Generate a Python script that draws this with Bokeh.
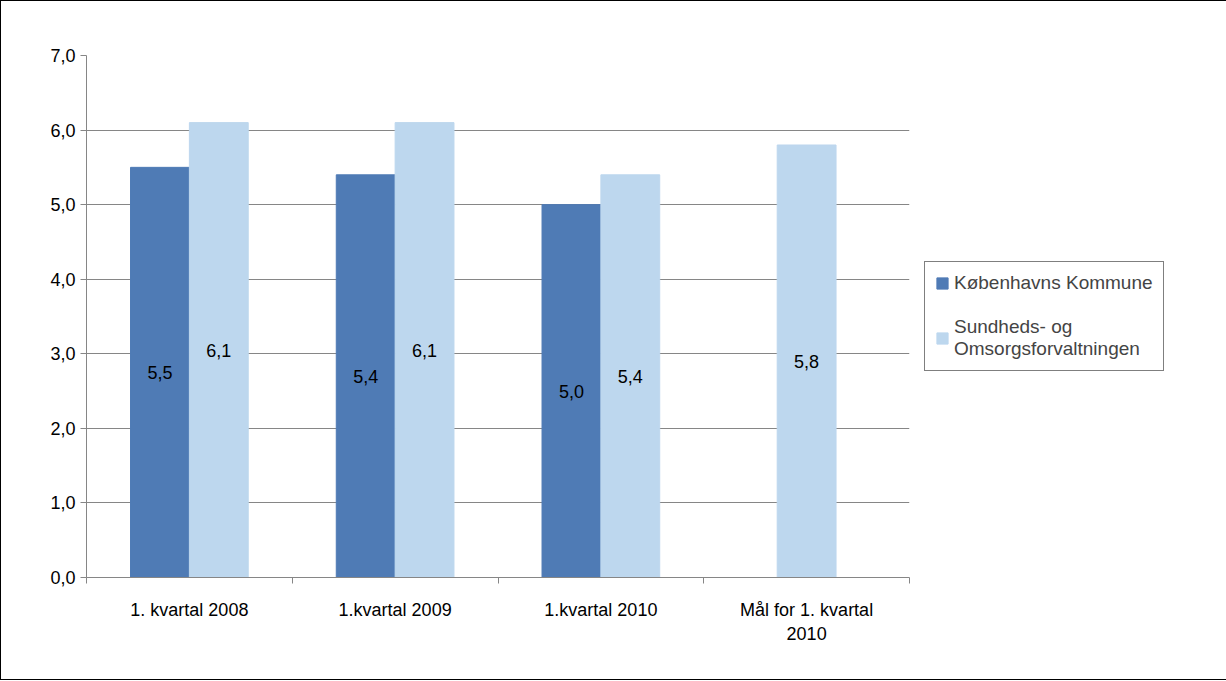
from bokeh.plotting import figure
from bokeh.models import (ColumnDataSource, FixedTicker, LinearAxis, Legend, LegendItem,
                          LabelSet, Range1d)
from bokeh.core.properties import value
from bokeh.embed import file_html
from bokeh.resources import INLINE

categories = ["1. kvartal 2008", "1.kvartal 2009", "1.kvartal 2010", "Mål for 1. kvartal\n2010"]
kk = [5.5, 5.4, 5.0, None]
sof = [6.1, 6.1, 5.4, 5.8]
series_names = ["Københavns Kommune", "Sundheds- og\nOmsorgsforvaltningen"]
colors = ["#4F7BB5", "#BDD7EE"]
FONT = "Liberation Sans"

p = figure(frame_width=823, frame_height=522, output_backend="svg", toolbar_location=None,
           x_range=Range1d(0, 4), y_range=Range1d(0, 7),
           min_border_left=85, min_border_top=54, min_border_right=300, min_border_bottom=102)
p.styles = {"border": "1px solid black"}
p.outline_line_color = None
p.background_fill_color = "white"

bw = 0.286
xs = [i + 0.5 for i in range(len(categories))]
kx = [x - bw / 2 for x, v in zip(xs, kk) if v is not None]
kv = [v for v in kk if v is not None]
sx = [x + bw / 2 if kk[i] is not None else x for i, x in enumerate(xs)]

s1 = ColumnDataSource(dict(x=kx, top=kv, y=[v / 2 for v in kv], t=[f"{v:.1f}".replace(".", ",") for v in kv]))
s2 = ColumnDataSource(dict(x=sx, top=sof, y=[v / 2 for v in sof], t=[f"{v:.1f}".replace(".", ",") for v in sof]))
r1 = p.vbar(x="x", top="top", width=bw, source=s1, color=colors[0])
r2 = p.vbar(x="x", top="top", width=bw, source=s2, color=colors[1])
for s in (s1, s2):
    p.add_layout(LabelSet(x="x", y="y", text="t", source=s, text_align="center", text_baseline="middle",
                          text_font=value(FONT), text_font_size=value("18px"), text_color="black"))

p.xgrid.visible = False
p.ygrid.grid_line_color = "#868686"
p.ygrid.ticker = FixedTicker(ticks=list(range(8)))

p.yaxis.ticker = FixedTicker(ticks=list(range(8)))
p.yaxis.major_label_overrides = {i: f"{i},0" for i in range(8)}
p.yaxis.major_label_text_font = FONT
p.yaxis.major_label_text_font_size = "18px"
p.yaxis.major_label_text_color = "black"
p.yaxis.axis_line_color = "#868686"
p.yaxis.major_tick_line_color = "#868686"
p.yaxis.major_tick_in = 0
p.yaxis.major_tick_out = 6
p.yaxis.minor_tick_line_color = None

p.xaxis.ticker = FixedTicker(ticks=[0, 1, 2, 3, 4])
p.xaxis.major_label_text_alpha = 0
p.xaxis.axis_line_color = "#868686"
p.xaxis.major_tick_line_color = "#868686"
p.xaxis.major_tick_in = 0
p.xaxis.major_tick_out = 6
p.xaxis.minor_tick_line_color = None

ax2 = LinearAxis(ticker=FixedTicker(ticks=xs),
                 major_label_overrides={x: c for x, c in zip(xs, categories)},
                 axis_line_color=None, major_tick_line_color=None, minor_tick_line_color=None,
                 major_label_text_font=FONT, major_label_text_font_size="18px",
                 major_label_text_color="black", major_label_standoff=10)
p.add_layout(ax2, "below")

legend = Legend(items=[LegendItem(label=series_names[0], renderers=[r1]),
                       LegendItem(label=series_names[1], renderers=[r2])],
                location="center_left", label_text_font=FONT, label_text_font_size="19px",
                border_line_color="black", glyph_width=14, glyph_height=14, spacing=22,
                padding=10, margin=15)
p.add_layout(legend, "right")

open("out.html", "w").write(file_html(p, INLINE))
